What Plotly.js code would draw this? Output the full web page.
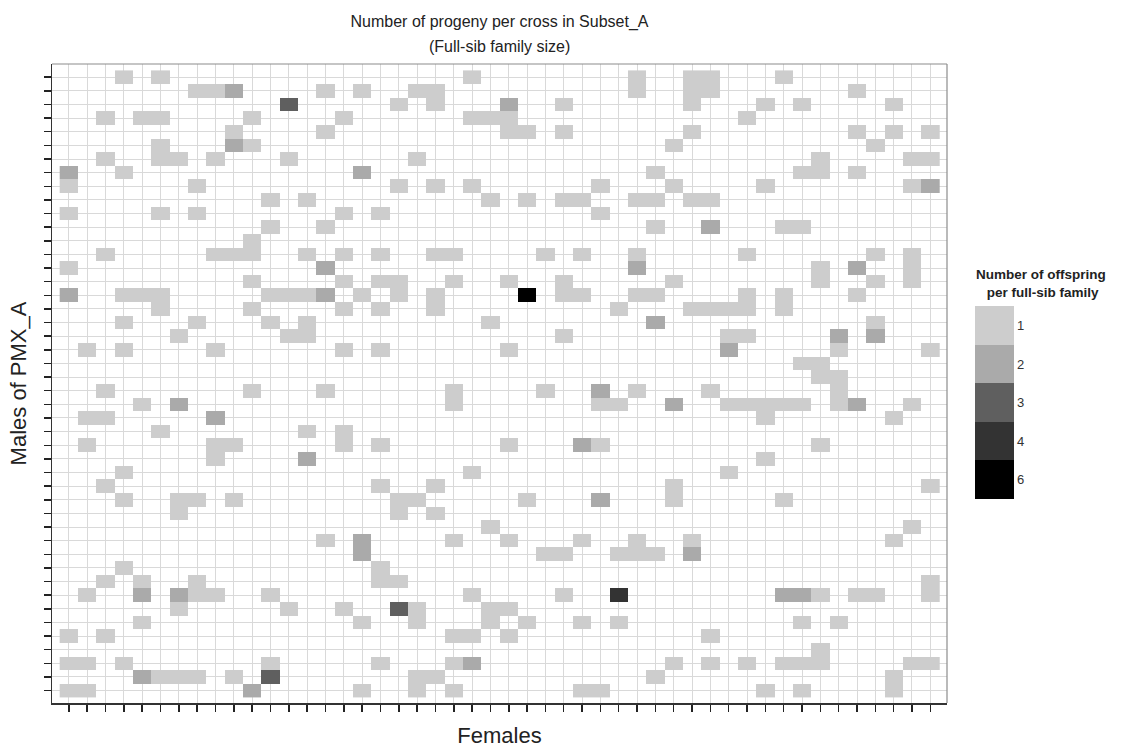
<!DOCTYPE html>
<html>
<head>
<meta charset="utf-8">
<script src="https://cdn.plot.ly/plotly-3.0.1.min.js"></script>
<style>
  html, body { margin: 0; padding: 0; background: #ffffff; }
  #chart { width: 1144px; height: 751px; }
</style>
</head>
<body>
<div id="chart"></div>
<script>
// ---------------- DATA ----------------
// Females (x axis, columns) and males of PMX_A (y axis, rows, top to bottom)
const females = Array.from({length: 48}, (_, i) => 'F' + (i + 1));
const males = Array.from({length: 46}, (_, i) => 'M' + (i + 1));

// Offspring levels shown in the legend and their grey fills
const offspringLevels = [1, 2, 3, 4, 6];
const levelColors = ['#cdcdcd', '#aaaaaa', '#5f5f5f', '#333333', '#000000'];

// For each male (row, top to bottom): the female indices (0-based) he was crossed with,
// "f:n" where the full-sib family has n offspring, otherwise n = 1
const crossesByMale = [
  "3 5 22 31 34 35 39",
  "7 8 9:2 14 16 19 20 31 34 35 43",
  "12:3 18 20 24:2 27 34 38 40 45",
  "2 4 5 10 15 22 23 24 37",
  "9 14 24 25 27 34 43 45 47",
  "5 9:2 10 33 44",
  "2 5 6 8 12 19 41 46 47",
  "0:2 3 16:2 32 40 41 43",
  "0 7 18 20 22 29 33 38 46 47:2",
  "11 13 23 25 27 28 31 32 34 35",
  "0 5 7 15 17 29",
  "11 14 32 35:2 39 40",
  "10",
  "2 8 9 10 13 15 17 20 21 26 28 31 37 44 46",
  "0 14:2 31:2 41 43:2 46",
  "10 15 17 18 21 24 27 33 41 44 46",
  "0:2 3 4 5 11 12 13 14:2 16 18 20 25:6 27 28 31 32 37 39 43",
  "5 10 15 17 20 30 34 35 36 37 39",
  "3 7 11 13 23 32:2 44",
  "6 12 13 27 36 37 42:2 44:2",
  "1 3 8 15 17 24 36:2 42 47",
  "40 41",
  "41 42",
  "2 10 14 21 26 29:2 31 35 42",
  "4 6:2 21 29 30 33:2 36 37 38 39 40 42 43:2 46",
  "1 2 8:2 38 45",
  "5 13 15",
  "1 8 9 15 17 24 28:2 29 41",
  "8 13:2 38",
  "3 22 36",
  "2 17 20 33 47",
  "3 6 7 9 18 19 25 29:2 33 39",
  "6 18 20",
  "23 46",
  "14 16:2 21 24 28 31 34 45",
  "16:2 26 27 30 31 32 34:2",
  "3 17",
  "2 4 7 17 18 47",
  "1 4:2 6:2 7 8 11 22 27 30:4 39:2 40:2 41 43 44 47",
  "6 12 15 18:3 19 23 24",
  "4 16 19 23 25 28 30 40 42",
  "0 2 21 22 24 35",
  "41",
  "0 1 3 11 17 21 22:2 33 35 37 39 40 41 46 47",
  "4:2 5 6 7 9 11:3 19 20 32 45",
  "0 1 10:2 16 19 21 28 29 38 40 45"
];

// --------------- BUILD MATRIX ---------------
const nL = offspringLevels.length;
const z = males.map(() => females.map(() => null));
const text = males.map(() => females.map(() => ''));
crossesByMale.forEach((row, r) => {
  row.trim().split(/\s+/).forEach(tok => {
    const parts = tok.split(':');
    const c = parseInt(parts[0], 10);
    const n = parts.length > 1 ? parseInt(parts[1], 10) : 1;
    // legend shows level 1 at the top, so index is reversed
    z[r][c] = nL - 1 - offspringLevels.indexOf(n);
    text[r][c] = String(n);
  });
});

const colorscale = [];
for (let k = 0; k < nL; k++) {
  const col = levelColors[nL - 1 - k];
  colorscale.push([k / nL, col]);
  colorscale.push([(k + 1) / nL, col]);
}

const xIdx = females.map((_, i) => i);
const yIdx = males.map((_, i) => i);

const font = 'Liberation Sans, Arial, sans-serif';

const trace = {
  type: 'heatmap',
  x: xIdx,
  y: yIdx,
  z: z,
  text: text,
  hovertemplate: 'Female %{x}<br>Male %{y}<br>Offspring %{text}<extra></extra>',
  zmin: -0.5,
  zmax: nL - 0.5,
  colorscale: colorscale,
  xgap: 0, ygap: 0,
  colorbar: {
    title: {text: ''},
    tickmode: 'array',
    tickvals: offspringLevels.map((_, k) => k),
    ticktext: offspringLevels.map((_, k) => String(offspringLevels[nL - 1 - k])),
    ticks: '',
    outlinewidth: 0,
    thickness: 39, thicknessmode: 'pixels',
    len: 193, lenmode: 'pixels',
    x: 1.0313, xanchor: 'left',
    y: 0.47, yanchor: 'middle',
    xpad: 0, ypad: 0,
    tickfont: {family: font, size: 13, color: '#333333'}
  }
};

const axisCommon = {
  showgrid: true,
  gridcolor: '#d9d9d9',
  gridwidth: 1,
  zeroline: false,
  showline: true,
  linecolor: '#333333',
  linewidth: 1.5,
  ticks: 'outside',
  ticklen: 7,
  tickwidth: 1.5,
  tickcolor: '#222222',
  showticklabels: false,
  tickmode: 'linear',
  tick0: 0,
  dtick: 1,
  automargin: false,
  fixedrange: true
};

const layout = {
  width: 1144,
  height: 751,
  autosize: false,
  paper_bgcolor: '#ffffff',
  plot_bgcolor: '#ffffff',
  margin: {l: 52, r: 197, t: 64, b: 48, pad: 0},
  font: {family: font, color: '#222222'},
  title: {
    text: 'Number of progeny per cross in Subset_A',
    font: {family: font, size: 16, color: '#222222'},
    x: 0.5, xref: 'paper', xanchor: 'center',
    y: 1 - 21 / 751, yref: 'container', yanchor: 'middle'
  },
  xaxis: Object.assign({}, axisCommon, {
    range: [-0.92, 47.91],
    title: {text: 'Females', font: {family: font, size: 22, color: '#222222'}, standoff: 17}
  }),
  yaxis: Object.assign({}, axisCommon, {
    range: [45.91, -0.97],
    title: {text: 'Males of PMX_A', font: {family: font, size: 22, color: '#222222'}, standoff: 11}
  }),
  shapes: [
    {type: 'line', xref: 'paper', yref: 'paper', x0: 0, x1: 1, y0: 1, y1: 1, line: {color: '#8c8c8c', width: 1.2}},
    {type: 'line', xref: 'paper', yref: 'paper', x0: 1, x1: 1, y0: 0, y1: 1, line: {color: '#8c8c8c', width: 1.2}}
  ],
  annotations: [
    {
      text: '(Full-sib family size)',
      xref: 'paper', yref: 'paper',
      x: 0.5, y: (703.3 - 47) / 639,
      xanchor: 'center', yanchor: 'middle',
      showarrow: false,
      font: {family: font, size: 16, color: '#222222'}
    },
    {
      text: '<b>Number of offspring<br> per full-sib family</b>',
      xref: 'paper', yref: 'paper',
      x: (1041 - 52) / 895, y: (703.3 - 284) / 639,
      xanchor: 'center', yanchor: 'middle',
      showarrow: false,
      align: 'center',
      font: {family: font, size: 13.5, color: '#222222'}
    }
  ]
};

Plotly.newPlot('chart', [trace], layout, {displayModeBar: false, staticPlot: true});
</script>
</body>
</html>
